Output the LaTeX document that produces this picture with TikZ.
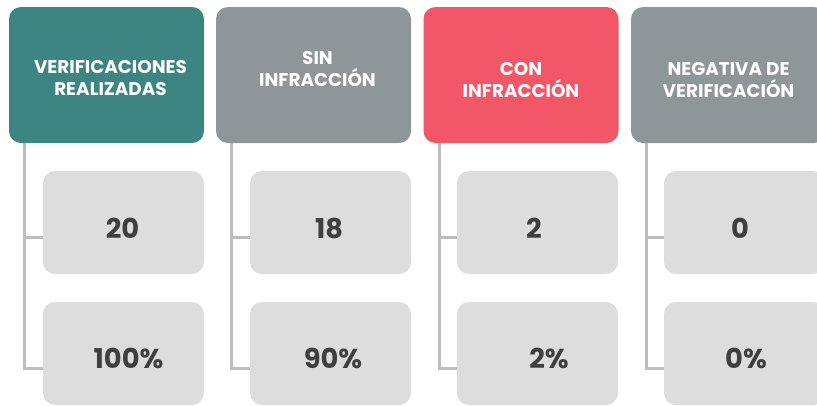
\documentclass[tikz,border=0pt]{standalone}
\usepackage{fontspec}
\setmainfont{Poppins}
\definecolor{tealhd}{HTML}{3D8582}
\definecolor{grayhd}{HTML}{8F9697}
\definecolor{redhd}{HTML}{F25767}
\definecolor{valbg}{HTML}{DDDDDD}
\definecolor{valtxt}{HTML}{3F3F3F}
\definecolor{treeln}{HTML}{BDBDBD}
\newcommand{\branch}[3]% header, top value, bottom value
{([xshift=12pt]#1.south west) |- ([yshift=-10.9pt]#2.west)
 ([xshift=12pt]#1.south west) |- ([yshift=-10.9pt]#3.west)
}
\usetikzlibrary{positioning}

\begin{document}
\begin{tikzpicture}[x=0.75pt,y=-0.75pt,
	header/.style={rounded corners=9pt, minimum width=146.25pt, minimum height=102pt},
	htext/.style={text=white, align=center, font=\bfseries\fontsize{13.8}{16.5}\selectfont},
	valbox/.style={fill=valbg, rounded corners=9pt, minimum width=120.75pt, minimum height=77.25pt},
	vtext/.style={text=valtxt, font=\bfseries\fontsize{20.5}{22}\selectfont},
	tree/.style={draw=treeln, line width=2.2pt}]
	\useasboundingbox (0,0) rectangle (817,405);
	\node[header, fill=tealhd] (hdA) at (106.5,75){};
	\node[header, fill=grayhd] (hdB) at (313.5,75){};
	\node[header, fill=redhd] (hdC) at (521,75){};
	\node[header, fill=grayhd] (hdD) at (728.5,75){};
	\node[htext] (tA) at (110.5,78){VERIFICACIONES\\REALIZADAS};%total
	\node[htext] (tB) at (317.5,69){SIN\\INFRACCIÓN};%sin
	\node[htext] (tC) at (521,80){CON\\INFRACCIÓN};%con
	\node[htext] (tD) at (728.5,80){NEGATIVA DE\\VERIFICACIÓN};%negativa
	\node[valbox] (vA1) at (123.5,222.5){};
	\node[valbox] (vB1) at (330.5,222.5){};
	\node[valbox] (vC1) at (537.5,222.5){};
	\node[valbox] (vD1) at (744.5,222.5){};
	\node[valbox] (vA2) at (123.5,353.5){};
	\node[valbox] (vB2) at (330.5,353.5){};
	\node[valbox] (vC2) at (537.5,353.5){};
	\node[valbox] (vD2) at (744.5,353.5){};
	\node[vtext] (nA1) at (122.5,228){20};
	\node[vtext] (nB1) at (329,228){18};
	\node[vtext] (nC1) at (534,228){2};
	\node[vtext] (nD1) at (740,228){0};
	\node[vtext] (nA2) at (128.5,358){100\%};
	\node[vtext] (nB2) at (333,358){90\%};
	\node[vtext] (nC2) at (549,358){2\%};
	\node[vtext] (nD2) at (746,358){0\%};
	\draw[tree] \branch{hdA}{vA1}{vA2};
	\draw[tree] \branch{hdB}{vB1}{vB2};
	\draw[tree] \branch{hdC}{vC1}{vC2};
	\draw[tree] \branch{hdD}{vD1}{vD2};
\end{tikzpicture}
\end{document}
